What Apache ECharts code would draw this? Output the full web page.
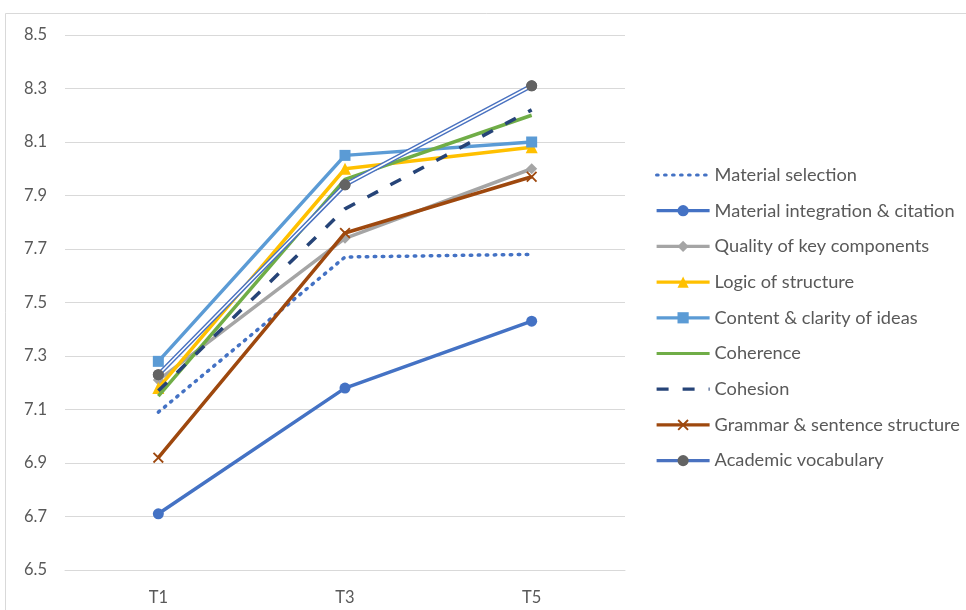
<!DOCTYPE html>
<html>
<head>
<meta charset="utf-8">
<script src="https://cdn.jsdelivr.net/npm/echarts@6/dist/echarts.min.js"></script>
<style>
html,body{margin:0;padding:0;background:#fff;}
#chart{width:966px;height:610px;}
</style>
</head>
<body>
<div id="chart"></div>
<script>
const categories = ['T1', 'T3', 'T5'];
const materialSelection = [7.09, 7.67, 7.68];
const materialIntegration = [6.71, 7.18, 7.43];
const qualityKeyComponents = [7.21, 7.74, 8.00];
const logicStructure = [7.18, 8.00, 8.08];
const contentClarity = [7.28, 8.05, 8.10];
const coherence = [7.15, 7.96, 8.20];
const cohesion = [7.17, 7.85, 8.22];
const grammar = [6.92, 7.76, 7.97];
const academicVocab = [7.23, 7.94, 8.31];
const yTicks = { min: 6.5, max: 8.5, step: 0.2 };

const FONT = 'Lato';
const xPath = 'path://M0,1.2 L1.2,0 L5,3.8 L8.8,0 L10,1.2 L6.2,5 L10,8.8 L8.8,10 L5,6.2 L1.2,10 L0,8.8 L3.8,5 Z';
const LW = 3.5;

const chart = echarts.init(document.getElementById('chart'), null, {renderer: 'canvas'});
const noSym = { opacity: 0 };
const option = {
  backgroundColor: '#fff',
  animation: false,
  graphic: [{
    type: 'rect', silent: true, z: -10,
    shape: { x: 5.5, y: 13.5, width: 1200, height: 1200 },
    style: { fill: 'none', stroke: '#D9D9D9', lineWidth: 1 }
  }],
  grid: { left: 65, right: 341, top: 35, bottom: 40 },
  legend: {
    orient: 'vertical', left: 650, top: 161,
    itemWidth: 53, itemHeight: 14, itemGap: 17.7,
    lineStyle: { width: 3.2 },
    textStyle: { fontFamily: FONT, fontSize: 18.2, color: '#595959' },
    data: [
      { name: 'Material selection', itemStyle: noSym },
      'Material integration & citation', 'Quality of key components',
      'Logic of structure', 'Content & clarity of ideas',
      { name: 'Coherence', itemStyle: noSym },
      { name: 'Cohesion', itemStyle: noSym },
      'Grammar & sentence structure', 'Academic vocabulary']
  },
  xAxis: {
    type: 'category', data: categories, boundaryGap: true,
    axisLine: { lineStyle: { color: '#D9D9D9', width: 1 } },
    axisTick: { show: false },
    axisLabel: { fontFamily: FONT, fontSize: 16.5, color: '#595959', margin: 19 }
  },
  yAxis: {
    type: 'value', min: yTicks.min, max: yTicks.max, interval: yTicks.step,
    axisLine: { show: false }, axisTick: { show: false },
    splitLine: { lineStyle: { color: '#D9D9D9', width: 1 } },
    axisLabel: { fontFamily: FONT, fontSize: 16.5, color: '#595959', margin: 18,
      formatter: v => v.toFixed(1) }
  },
  series: [
    { name: 'Material selection', type: 'line', data: materialSelection, symbol: 'none',
      lineStyle: { color: '#4472C4', width: LW, type: [1.5, 6.5], cap: 'round' },
      itemStyle: { color: '#4472C4' }, z: 2 },
    { name: 'Material integration & citation', type: 'line', data: materialIntegration,
      symbol: 'circle', symbolSize: 11,
      lineStyle: { color: '#4472C4', width: LW }, itemStyle: { color: '#4472C4' }, z: 3 },
    { name: 'Quality of key components', type: 'line', data: qualityKeyComponents,
      symbol: 'diamond', symbolSize: 11,
      lineStyle: { color: '#A5A5A5', width: LW }, itemStyle: { color: '#A5A5A5' }, z: 4 },
    { name: 'Logic of structure', type: 'line', data: logicStructure,
      symbol: 'triangle', symbolSize: 12,
      lineStyle: { color: '#FFC000', width: LW }, itemStyle: { color: '#FFC000' }, z: 5 },
    { name: 'Content & clarity of ideas', type: 'line', data: contentClarity,
      symbol: 'rect', symbolSize: 11,
      lineStyle: { color: '#5B9BD5', width: LW }, itemStyle: { color: '#5B9BD5' }, z: 6 },
    { name: 'Coherence', type: 'line', data: coherence, symbol: 'none',
      lineStyle: { color: '#70AD47', width: LW }, itemStyle: { color: '#70AD47' }, z: 7 },
    { name: 'Cohesion', type: 'line', data: cohesion, symbol: 'none',
      lineStyle: { color: '#264478', width: LW, type: [12, 14] }, itemStyle: { color: '#264478' }, z: 8 },
    { name: 'Grammar & sentence structure', type: 'line', data: grammar,
      symbol: xPath, symbolSize: 11,
      lineStyle: { color: '#9E480E', width: LW }, itemStyle: { color: '#9E480E' }, z: 9 },
    { name: 'Academic vocabulary', type: 'line', data: academicVocab,
      symbol: 'circle', symbolSize: 11,
      lineStyle: { color: '#4A72C0', width: 4.5 }, itemStyle: { color: '#636363' }, z: 10 },
    { name: 'av-inner', type: 'line', data: academicVocab, symbol: 'none', silent: true,
      lineStyle: { color: '#ffffff', width: 1.6 }, z: 11 },
    { name: 'av-markers', type: 'line', data: academicVocab, symbol: 'circle', symbolSize: 11,
      silent: true, lineStyle: { width: 0, opacity: 0 }, itemStyle: { color: '#636363' }, z: 12 }
  ]
};
chart.setOption(option);
</script>
</body>
</html>
